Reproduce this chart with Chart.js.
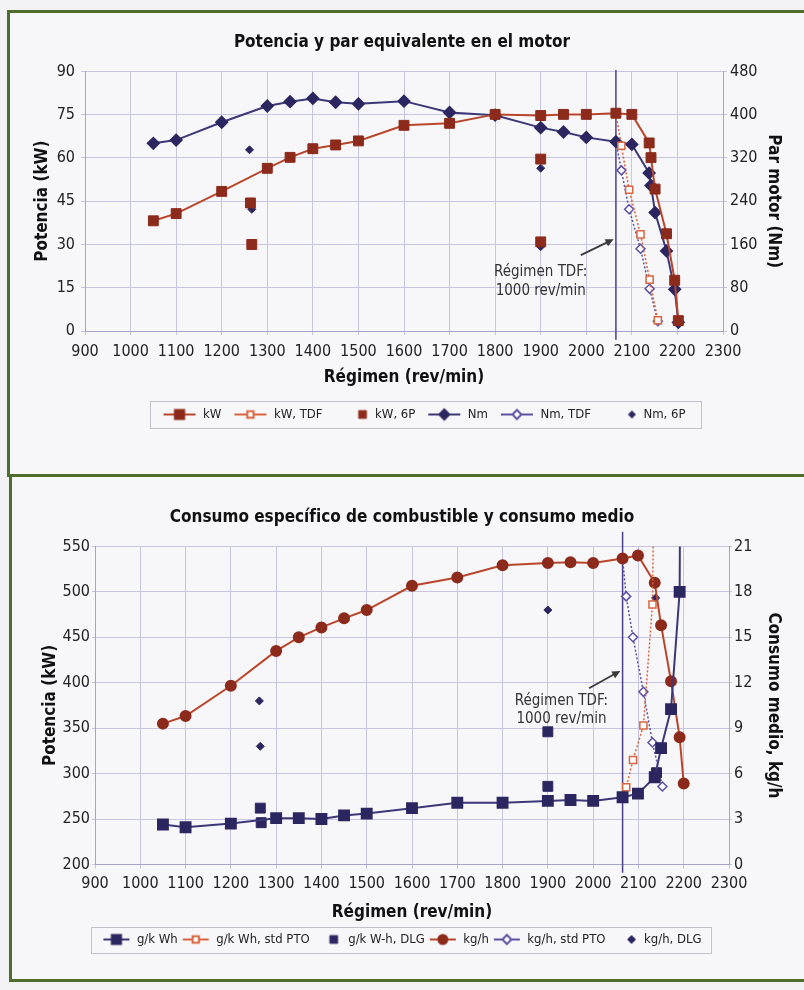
<!DOCTYPE html>
<html lang="es">
<head>
<meta charset="utf-8">
<title>Potencia y consumo del motor</title>
<script src="https://cdn.jsdelivr.net/npm/chart.js@4.4.1/dist/chart.umd.min.js"></script>
<style>
  html, body { margin: 0; padding: 0; background: #f3f3f5; }
  body { width: 804px; height: 990px; position: relative; overflow: hidden; }
  .caja { position: absolute; box-sizing: border-box; border: 3px solid #4e6e30; background: #f7f7f9; }
  #caja1 { left: 7px; top: 10px; width: 830px; height: 467px; }
  #caja2 { left: 9px; top: 474px; width: 830px; height: 508px; }
  canvas { position: absolute; left: 0; }
  #g1 { top: 0; }
  #g2 { top: 478px; }
</style>
</head>
<body>
<div class="caja" id="caja1"></div>
<div class="caja" id="caja2"></div>
<canvas id="g1" width="804" height="474"></canvas>
<canvas id="g2" width="804" height="512"></canvas>
<script>
// ---------- Gráfico 1: potencia y par ----------
const regimen = [1050, 1100, 1200, 1300, 1350, 1400, 1450, 1500, 1600, 1700, 1800, 1900, 1950, 2000, 2065, 2100, 2138, 2142, 2151, 2176, 2194, 2202];
const potenciaKW = [38.2, 40.7, 48.4, 56.4, 60.2, 63.2, 64.5, 65.9, 71.3, 72.0, 75.1, 74.7, 75.1, 75.1, 75.5, 75.1, 65.2, 60.1, 49.2, 33.7, 17.6, 3.6];
const parNm = [347, 353, 386, 416, 424, 430, 423, 420, 425, 404, 399, 376, 368, 358, 350, 345, 292, 269, 219, 148, 77, 16];

const regimenTDF = [2065, 2077, 2094, 2119, 2139, 2157];
const potenciaTDF = [75.5, 64.2, 49.0, 33.5, 17.8, 3.7];
const parTDF = [350, 297, 225, 152, 78, 18];

const regimen6P = [1263, 1266, 1900, 1900];
const potencia6P = [44.4, 30.0, 59.6, 30.9];
const regimenPar6P = [1261, 1266, 1900, 1900];
const par6P = [335, 225, 301, 156];

// ---------- Gráfico 2: consumo ----------
const regimenC = [1050, 1100, 1200, 1300, 1350, 1400, 1450, 1500, 1600, 1700, 1800, 1900, 1950, 2000, 2065, 2099, 2136, 2150, 2172, 2191, 2200];
const consumoEsp = [244, 241, 245, 251, 251, 250, 254, 256, 262, 268, 268, 270, 271, 270, 274, 278, 296, 328, 371, 500, 1450];
const consumoKgH = [9.3, 9.8, 11.8, 14.1, 15.0, 15.65, 16.25, 16.8, 18.4, 18.95, 19.75, 19.9, 19.95, 19.9, 20.2, 20.4, 18.6, 15.8, 12.1, 8.4, 5.35];

const regimenPTO = [2065, 2073, 2088, 2111, 2131, 2153];
const consumoEspPTO = [274, 285, 315, 353, 486, 1390];
const consumoKgHPTO = [20.2, 17.7, 15.0, 11.4, 8.05, 5.15];

const regimenDLG = [1265, 1267, 1900, 1900, 2140];
const consumoEspDLG = [262, 246, 346, 286, 301];
const regimenKgHDLG = [1263, 1265, 1900, 2138];
const consumoKgHDLG = [10.8, 7.8, 16.8, 17.6];

// régimen de la TDF a 1000 rev/min
const regimenLineaTDF = 2065;

// marcas de los ejes
const ticksRegimen = [900, 1000, 1100, 1200, 1300, 1400, 1500, 1600, 1700, 1800, 1900, 2000, 2100, 2200, 2300];
const ticksPotencia = [0, 15, 30, 45, 60, 75, 90];
const ticksPar = [0, 80, 160, 240, 320, 400, 480];
const ticksConsumoEsp = [200, 250, 300, 350, 400, 450, 500, 550];
const ticksConsumoKgH = [0, 3, 6, 9, 12, 15, 18, 21];

// colores
const ROJO = '#8c2a1b';
const ROJO_LINEA = '#b9462b';
const ROJO_CLARO = '#d8643e';
const AZUL = '#2c2660';
const AZUL_LINEA = '#3c3777';
const AZUL_CLARO = '#5c50a2';
const REJILLA = '#c6c6e2';
const EJE = '#a4a4c8';
const FUENTE = "'Liberation Sans Narrow', 'Arial Narrow', 'DejaVu Sans Condensed', sans-serif";

Chart.defaults.font.family = FUENTE;
Chart.defaults.color = '#222';

const pts = (xs, ys) => xs.map((x, i) => ({ x: x, y: ys[i] }));
const fijarTicks = lista => scale => { scale.ticks = lista.map(v => ({ value: v })); };

// pequeño dibujo de línea + marcador para la leyenda
function simbolo(ancho, linea, forma, radio, relleno, borde, xMarca) {
    const c = document.createElement('canvas');
    c.width = ancho; c.height = 16;
    const ctx = c.getContext('2d');
    if (linea) {
        ctx.strokeStyle = linea;
        ctx.lineWidth = 2;
        ctx.beginPath(); ctx.moveTo(1, 8); ctx.lineTo(ancho - 1, 8); ctx.stroke();
    }
    ctx.fillStyle = relleno;
    ctx.strokeStyle = borde;
    Chart.helpers.drawPoint(ctx, { pointStyle: forma, radius: radio, borderWidth: 1.2, rotation: 0 },
        xMarca === undefined ? ancho / 2 : xMarca, 8);
    return c;
}

// texto "Régimen TDF" con su flecha
const anotacionTDF = {
    id: 'anotacionTDF',
    afterDatasetsDraw(chart, args, o) {
        const { ctx, scales } = chart;
        const x = scales.x, y = scales.y;
        ctx.save();
        ctx.font = '15px ' + FUENTE;
        ctx.fillStyle = '#333';
        ctx.textAlign = 'center';
        ctx.textBaseline = 'middle';
        o.lineas.forEach((t, i) => ctx.fillText(t, x.getPixelForValue(o.textoX), y.getPixelForValue(o.textoY[i])));
        const x0 = x.getPixelForValue(o.desde[0]), y0 = y.getPixelForValue(o.desde[1]);
        const x1 = x.getPixelForValue(o.hasta[0]), y1 = y.getPixelForValue(o.hasta[1]);
        const ang = Math.atan2(y1 - y0, x1 - x0);
        ctx.strokeStyle = '#3a3a3a';
        ctx.fillStyle = '#3a3a3a';
        ctx.lineWidth = 1.8;
        ctx.beginPath(); ctx.moveTo(x0, y0); ctx.lineTo(x1 - 6 * Math.cos(ang), y1 - 6 * Math.sin(ang)); ctx.stroke();
        ctx.beginPath();
        ctx.moveTo(x1, y1);
        ctx.lineTo(x1 - 9 * Math.cos(ang - 0.45), y1 - 9 * Math.sin(ang - 0.45));
        ctx.lineTo(x1 - 9 * Math.cos(ang + 0.45), y1 - 9 * Math.sin(ang + 0.45));
        ctx.closePath(); ctx.fill();
        ctx.restore();
    }
};

// marco de la leyenda y desplazamiento horizontal
const marcoLeyenda = {
    id: 'marcoLeyenda',
    afterLayout(chart, args, o) {
        const lg = chart.legend;
        if (!lg || !o.desplazar) return;
        lg.left += o.desplazar; lg.right += o.desplazar;
        lg.legendHitBoxes.forEach(h => { h.left += o.desplazar; });
    },
    afterDraw(chart, args, o) {
        const lg = chart.legend;
        if (!lg || !lg.legendHitBoxes.length) return;
        const hb = lg.legendHitBoxes;
        const l = Math.min(...hb.map(h => h.left)) - o.izq;
        const r = Math.max(...hb.map(h => h.left + h.width)) + o.der;
        const cy = hb[0].top + hb[0].height / 2;
        const ctx = chart.ctx;
        ctx.save();
        ctx.strokeStyle = '#c2c2ca';
        ctx.lineWidth = 1;
        ctx.strokeRect(Math.round(l) + 0.5, Math.round(cy - o.alto / 2) + 0.5, Math.round(r - l), Math.round(o.alto));
        ctx.restore();
    }
};

function leyenda(simbolos, ancho, padding) {
    return {
        position: 'bottom',
        labels: {
            usePointStyle: true,
            pointStyleWidth: ancho,
            padding: padding,
            color: '#222',
            font: { size: 13 },
            filter: it => it.text !== '',
            generateLabels(chart) {
                const items = Chart.defaults.plugins.legend.labels.generateLabels(chart);
                items.forEach(it => { it.pointStyle = simbolos[it.datasetIndex]; });
                return items;
            }
        }
    };
}

function ejeX(alto, pad, padTitulo) {
    return {
        type: 'linear', min: 900, max: 2300,
        afterBuildTicks: fijarTicks(ticksRegimen),
        afterFit: s => { s.height = alto; },
        grid: { color: REJILLA, tickColor: REJILLA, tickLength: 4 },
        border: { color: EJE },
        ticks: { padding: pad, font: { size: 16 }, color: '#222', maxRotation: 0, autoSkip: false, callback: v => String(v) },
        title: { display: true, text: 'Régimen (rev/min)', font: { size: 17, weight: 'bold' }, color: '#111', padding: { top: 0, bottom: padTitulo } }
    };
}

function ejeY(min, max, lista, ancho, texto, padTitulo, padTicks, lado, tl) {
    return {
        type: 'linear', position: lado, min: min, max: max,
        afterBuildTicks: fijarTicks(lista),
        afterFit: s => { s.width = ancho; },
        grid: { color: REJILLA, tickColor: REJILLA, tickLength: tl, drawOnChartArea: lado === 'left' },
        border: { color: EJE },
        ticks: { padding: padTicks, font: { size: 16 }, color: '#222', callback: v => String(v) },
        title: { display: true, text: texto, font: { size: 17, weight: 'bold' }, color: '#111', padding: { top: padTitulo, bottom: 0 } }
    };
}

// ---------- gráfico 1 ----------
const simbolos1 = [
    simbolo(34, ROJO_LINEA, 'rect', 6.5, ROJO, ROJO),
    simbolo(34, ROJO_CLARO, 'rect', 4.5, '#fff', ROJO_CLARO),
    simbolo(34, null, 'rect', 5.5, ROJO, ROJO, 28),
    simbolo(34, AZUL_LINEA, 'rectRot', 5, AZUL, AZUL),
    simbolo(34, AZUL_CLARO, 'rectRot', 4.5, '#fff', AZUL_CLARO),
    simbolo(34, null, 'rectRot', 3.5, AZUL, AZUL, 29)
];

new Chart(document.getElementById('g1'), {
    type: 'line',
    data: {
        datasets: [
            { label: 'kW', data: pts(regimen, potenciaKW), yAxisID: 'y', borderColor: ROJO_LINEA, borderWidth: 2,
              pointStyle: 'rect', pointRadius: 7, pointBackgroundColor: ROJO, pointBorderColor: ROJO, pointBorderWidth: 1 },
            { label: 'kW, TDF', data: pts(regimenTDF, potenciaTDF), yAxisID: 'y', borderColor: ROJO_CLARO, borderWidth: 1.5, borderDash: [2, 2],
              pointStyle: 'rect', pointRadius: [0, 5, 5, 5, 5, 5], pointBackgroundColor: '#fff', pointBorderColor: ROJO_CLARO, pointBorderWidth: 1.5 },
            { label: 'kW, 6P', data: pts(regimen6P, potencia6P), yAxisID: 'y', showLine: false,
              pointStyle: 'rect', pointRadius: 7, pointBackgroundColor: ROJO, pointBorderColor: ROJO },
            { label: 'Nm', data: pts(regimen, parNm), yAxisID: 'y1', borderColor: AZUL_LINEA, borderWidth: 2,
              pointStyle: 'rectRot', pointRadius: 5.5, pointBackgroundColor: AZUL, pointBorderColor: AZUL },
            { label: 'Nm, TDF', data: pts(regimenTDF, parTDF), yAxisID: 'y1', borderColor: AZUL_CLARO, borderWidth: 1.5, borderDash: [2, 2],
              pointStyle: 'rectRot', pointRadius: [0, 4.5, 4.5, 4.5, 4.5, 4.5], pointBackgroundColor: '#fff', pointBorderColor: AZUL_CLARO, pointBorderWidth: 1.5 },
            { label: 'Nm, 6P', data: pts(regimenPar6P, par6P), yAxisID: 'y1', showLine: false,
              pointStyle: 'rectRot', pointRadius: 4, pointBackgroundColor: AZUL, pointBorderColor: AZUL },
            { label: '', data: [{ x: regimenLineaTDF, y: -3 }, { x: regimenLineaTDF, y: 90.5 }], yAxisID: 'y', clip: false,
              borderColor: '#4b3f8a', borderWidth: 1.5, pointRadius: 0 }
        ]
    },
    options: {
        responsive: false,
        animation: false,
        layout: { padding: { left: 0, right: 0, top: 0, bottom: 43 } },
        plugins: {
            title: { display: true, text: 'Potencia y par equivalente en el motor', color: '#111',
                     font: { size: 17, weight: 'bold' }, padding: { top: 32, bottom: 19 } },
            legend: leyenda(simbolos1, 34, 12),
            tooltip: { enabled: false },
            anotacionTDF: { lineas: ['Régimen TDF:', '1000 rev/min'], textoX: 1900, textoY: [20.4, 13.8],
                            desde: [1988, 26.3], hasta: [2060, 31.8] },
            marcoLeyenda: { izq: 13, der: 15, alto: 27, desplazar: 22 }
        },
        scales: {
            x: ejeX(65, 7, 8),
            y: ejeY(0, 90, ticksPotencia, 85, 'Potencia (kW)', 32, 6, 'left', 4),
            y1: ejeY(0, 480, ticksPar, 81, 'Par motor (Nm)', 20, 3, 'right', 4)
        }
    },
    plugins: [anotacionTDF, marcoLeyenda]
});

// ---------- gráfico 2 ----------
const simbolos2 = [
    simbolo(28, AZUL_LINEA, 'rect', 6.5, AZUL, AZUL),
    simbolo(28, ROJO_CLARO, 'rect', 4.5, '#fff', ROJO_CLARO),
    simbolo(28, null, 'rect', 5.5, AZUL, AZUL, 20),
    simbolo(28, ROJO_LINEA, 'circle', 4.5, ROJO, ROJO),
    simbolo(28, AZUL_CLARO, 'rectRot', 4.5, '#fff', AZUL_CLARO),
    simbolo(28, null, 'rectRot', 4, AZUL, AZUL, 22)
];

new Chart(document.getElementById('g2'), {
    type: 'line',
    data: {
        datasets: [
            { label: 'g/k Wh', data: pts(regimenC, consumoEsp), yAxisID: 'y', borderColor: AZUL_LINEA, borderWidth: 2,
              pointStyle: 'rect', pointRadius: 7, pointBackgroundColor: AZUL, pointBorderColor: AZUL },
            { label: 'g/k Wh, std PTO', data: pts(regimenPTO, consumoEspPTO), yAxisID: 'y', borderColor: ROJO_CLARO, borderWidth: 1.5, borderDash: [2, 2],
              pointStyle: 'rect', pointRadius: [0, 5, 5, 5, 5, 5], pointBackgroundColor: '#fff', pointBorderColor: ROJO_CLARO, pointBorderWidth: 1.5 },
            { label: 'g/k W-h, DLG', data: pts(regimenDLG, consumoEspDLG), yAxisID: 'y', showLine: false,
              pointStyle: 'rect', pointRadius: 7, pointBackgroundColor: AZUL, pointBorderColor: AZUL },
            { label: 'kg/h', data: pts(regimenC, consumoKgH), yAxisID: 'y1', borderColor: ROJO_LINEA, borderWidth: 2,
              pointStyle: 'circle', pointRadius: 5, pointBackgroundColor: ROJO, pointBorderColor: ROJO },
            { label: 'kg/h, std PTO', data: pts(regimenPTO, consumoKgHPTO), yAxisID: 'y1', borderColor: AZUL_CLARO, borderWidth: 1.5, borderDash: [2, 2],
              pointStyle: 'rectRot', pointRadius: [0, 4.5, 4.5, 4.5, 4.5, 4.5], pointBackgroundColor: '#fff', pointBorderColor: AZUL_CLARO, pointBorderWidth: 1.5 },
            { label: 'kg/h, DLG', data: pts(regimenKgHDLG, consumoKgHDLG), yAxisID: 'y1', showLine: false,
              pointStyle: 'rectRot', pointRadius: 4, pointBackgroundColor: AZUL, pointBorderColor: AZUL },
            { label: '', data: [{ x: regimenLineaTDF, y: 191 }, { x: regimenLineaTDF, y: 566 }], yAxisID: 'y', clip: false,
              borderColor: '#4b3f8a', borderWidth: 1.5, pointRadius: 0 }
        ]
    },
    options: {
        responsive: false,
        animation: false,
        layout: { padding: { left: 0, right: 0, top: 0, bottom: 34 } },
        plugins: {
            title: { display: true, text: 'Consumo específico de combustible y consumo medio', color: '#111',
                     font: { size: 17, weight: 'bold' }, padding: { top: 29, bottom: 19 } },
            legend: leyenda(simbolos2, 28, 4),
            tooltip: { enabled: false },
            anotacionTDF: { lineas: ['Régimen TDF:', '1000 rev/min'], textoX: 1930, textoY: [380, 360],
                            desde: [1991, 394], hasta: [2060, 413] },
            marcoLeyenda: { izq: 11, der: 10, alto: 26, desplazar: 0 }
        },
        scales: {
            x: ejeX(64.5, 6, 6),
            y: ejeY(200, 550, ticksConsumoEsp, 95, 'Potencia (kW)', 40, 2, 'left', 3),
            y1: ejeY(0, 21, ticksConsumoKgH, 75, 'Consumo medio, kg/h', 20, 2, 'right', 3)
        }
    },
    plugins: [anotacionTDF, marcoLeyenda]
});
</script>
</body>
</html>
